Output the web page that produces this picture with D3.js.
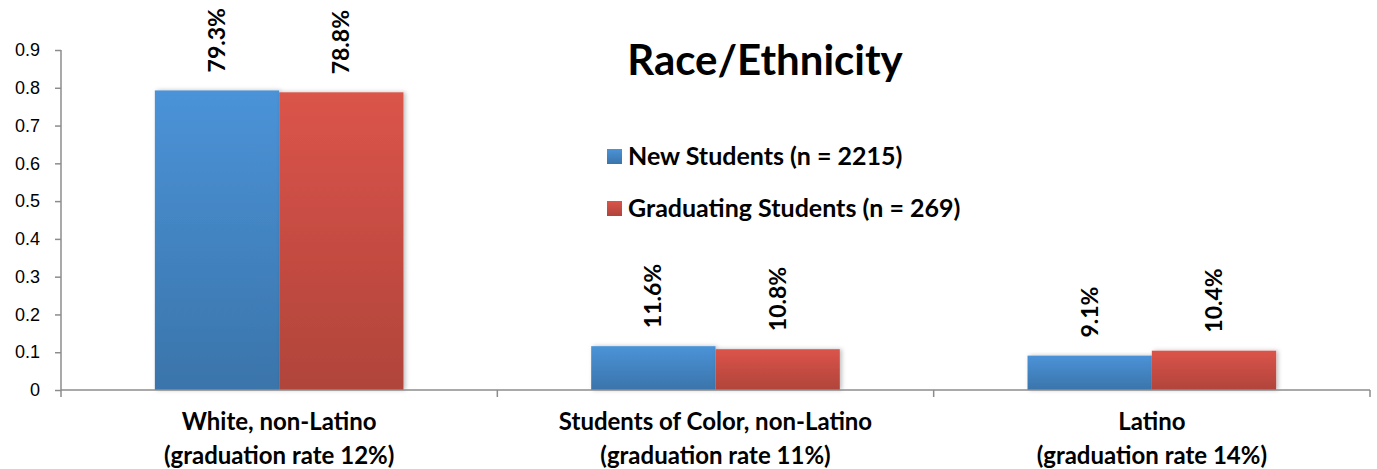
<!DOCTYPE html>
<html>
<head>
<meta charset="utf-8">
<script src="https://cdn.jsdelivr.net/npm/d3@7"></script>
<style>
  body { margin: 0; background: #fff; }
  svg { display: block; font-family: Lato, "Open Sans", sans-serif; }
</style>
</head>
<body>
<svg id="chart" width="1377" height="469"></svg>
<script>
// data
var categories = ["White, non-Latino", "Students of Color, non-Latino", "Latino"];
var subLabels = ["(graduation rate 12%)", "(graduation rate 11%)", "(graduation rate 14%)"];
var seriesNames = ["New Students (n = 2215)", "Graduating Students (n = 269)"];
var newStudents = [0.793, 0.116, 0.091];
var gradStudents = [0.788, 0.108, 0.104];
var yTicks = [0, 0.1, 0.2, 0.3, 0.4, 0.5, 0.6, 0.7, 0.8, 0.9];

var svg = d3.select("#chart");
var mLeft = 61, mRight = 1370, mTop = 50, mBottom = 390;

// gradients
var defs = svg.append("defs");
var grads = [["gBlue", "#4b93d8", "#3a74aa"], ["gRed", "#db544a", "#b0443b"]];
grads.forEach(function(g){
  var lg = defs.append("linearGradient").attr("id", g[0]).attr("x1", 0).attr("y1", 0).attr("x2", 0).attr("y2", 1);
  lg.append("stop").attr("offset", "0%").attr("stop-color", g[1]);
  lg.append("stop").attr("offset", "100%").attr("stop-color", g[2]);
});
var filt = defs.append("filter").attr("id", "shadow").attr("x", "-10%").attr("y", "-10%").attr("width", "120%").attr("height", "120%");
filt.append("feDropShadow").attr("dx", 2).attr("dy", 0).attr("stdDeviation", 2).attr("flood-color", "#000").attr("flood-opacity", 0.25);

var x = d3.scaleBand().domain(categories).range([mLeft, mRight]).paddingInner(0).paddingOuter(0);
var inner = d3.scaleBand().domain([0, 1]).range([0, x.bandwidth()]).paddingOuter(0.755).paddingInner(0);
var y = d3.scaleLinear().domain([0, 0.9]).range([mBottom, mTop]);

// y axis
var yAxis = svg.append("g").attr("transform", "translate(" + mLeft + ",0)")
  .call(d3.axisLeft(y).tickValues(yTicks).tickSize(6).tickPadding(15)
    .tickFormat(function(d){ return d === 0 ? "0" : d3.format(".1f")(d); }));
yAxis.select(".domain").attr("stroke", "#8c8c8c").attr("stroke-width", 1.5).attr("d", "M0," + mTop + "V" + mBottom);
yAxis.selectAll(".tick line").attr("stroke", "#8c8c8c").attr("stroke-width", 1.5);
yAxis.selectAll(".tick text").attr("font-size", 18).attr("fill", "#000");

// bars
var series = [newStudents, gradStudents];
var fills = ["url(#gBlue)", "url(#gRed)"];
var groups = svg.append("g");
series.forEach(function(vals, si){
  groups.selectAll(".bar" + si).data(categories).enter().append("rect")
    .attr("class", "bar" + si)
    .attr("x", function(d){ return x(d) + inner(si); })
    .attr("width", inner.bandwidth())
    .attr("y", function(d, i){ return y(vals[i]); })
    .attr("height", function(d, i){ return mBottom - y(vals[i]); })
    .attr("fill", fills[si])
    .attr("filter", "url(#shadow)");
  groups.selectAll(".lab" + si).data(categories).enter().append("text")
    .attr("transform", function(d, i){
      var cx = x(d) + inner(si) + inner.bandwidth() / 2;
      return "translate(" + (cx + 8) + "," + (y(vals[i]) - 18) + ") rotate(-90)";
    })
    .attr("font-size", 23).attr("font-weight", "bold").attr("fill", "#000")
    .text(function(d, i){ return d3.format(".1f")(vals[i] * 100) + "%"; });
});

// x axis
var xAxis = svg.append("g").attr("transform", "translate(0," + mBottom + ")")
  .call(d3.axisBottom(x).tickSize(0).tickFormat(""));
xAxis.select(".domain").attr("stroke", "#8c8c8c").attr("stroke-width", 1.5).attr("d", "M" + mLeft + ",0H" + mRight);
var bounds = categories.map(function(d){ return x(d); }).concat([mRight]);
xAxis.selectAll(".sep").data(bounds).enter().append("line")
  .attr("x1", function(d){ return d; }).attr("x2", function(d){ return d; })
  .attr("y1", 0).attr("y2", 7).attr("stroke", "#8c8c8c").attr("stroke-width", 1.5);

svg.append("g").selectAll("text").data(categories).enter().append("text")
  .attr("x", function(d){ return x(d) + x.bandwidth() / 2; })
  .attr("y", 430).attr("text-anchor", "middle")
  .attr("font-size", 24).attr("font-weight", "bold")
  .text(function(d){ return d; });
svg.append("g").selectAll("text").data(subLabels).enter().append("text")
  .attr("x", function(d, i){ return x(categories[i]) + x.bandwidth() / 2; })
  .attr("y", 464).attr("text-anchor", "middle")
  .attr("font-size", 24).attr("font-weight", "bold")
  .text(function(d){ return d; });

// title
svg.append("text").attr("x", 765).attr("y", 75).attr("text-anchor", "middle")
  .attr("font-size", 42).attr("font-weight", "bold").text("Race/Ethnicity");

// legend
var legend = svg.append("g").selectAll("g").data(seriesNames).enter().append("g")
  .attr("transform", function(d, i){ return "translate(607," + (149 + i * 52) + ")"; });
legend.append("rect").attr("width", 15).attr("height", 15)
  .attr("fill", function(d, i){ return fills[i]; });
legend.append("text").attr("x", 21).attr("y", 16)
  .attr("font-size", 25).attr("font-weight", "bold").text(function(d){ return d; });
</script>
</body>
</html>
